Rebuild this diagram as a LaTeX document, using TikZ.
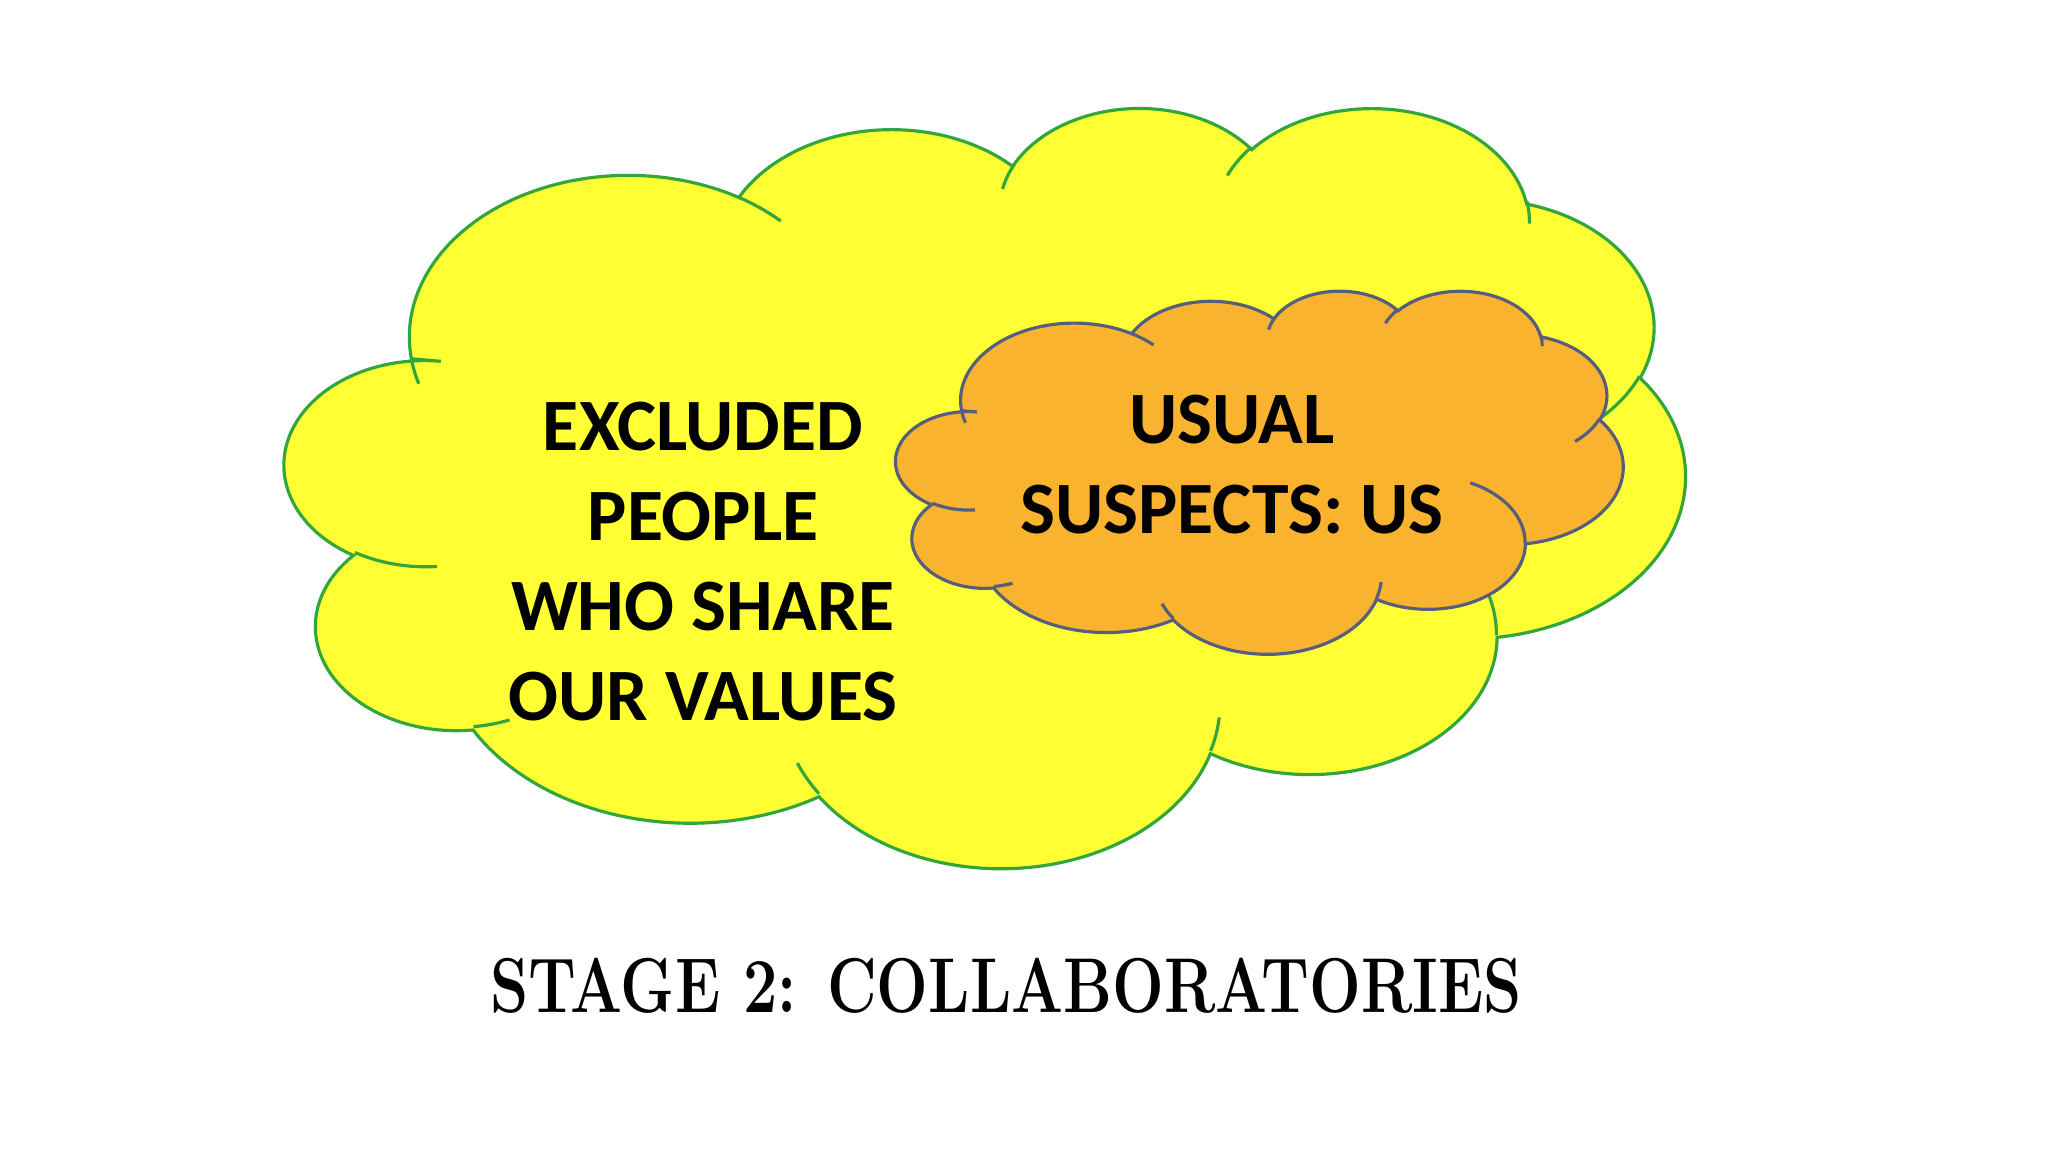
\documentclass[tikz,border=0pt]{standalone}
\usepackage{fontspec}
\usepackage{graphicx}
\usepackage{tikz}
\newfontfamily\cloudfont{Carlito}
\definecolor{cloudyellow}{RGB}{255,255,51}
\definecolor{cloudgreen}{RGB}{50,165,60}
\definecolor{cloudorange}{RGB}{249,179,46}
\definecolor{cloudslate}{RGB}{85,95,125}
\pgfmathdeclarefunction{vispar}{3}{%
	\begingroup
	\pgfmathparse{atan2(#2*sin(#1),#3*cos(#1))-(#1)}%
	\pgfmathparse{#1+atan2(sin(\pgfmathresult),cos(\pgfmathresult))}%
	\pgfmathsmuggle\pgfmathresult
	\endgroup}

\begin{document}
\begin{tikzpicture}[x=0.01cm, y=-0.01cm,
	cloudtext/.style={font=\cloudfont\bfseries\fontsize{21}{25.6}\selectfont, align=center, inner sep=0},
	stagetext/.style={font=\bfseries\fontsize{17.4}{20}\selectfont, inner sep=0}]
	\useasboundingbox[fill=white] (0,0) rectangle (2048,1152);
	\foreach \cx/\cy/\cw/\ch/\fc/\dc in {285/106/1400/760/cloudyellow/cloudgreen, 896/290/727/363/cloudorange/cloudslate} {
		\begin{scope}[shift={(\cx,\cy)}, x={(0.01cm*\cw/432,0)}, y={(0,-0.01cm*\ch/432)}, line width=0.9pt]
			\filldraw[fill=\fc, draw=\dc] (39,143.7)
				foreach \wr/\hr/\st/\sw in {67.53/91.90/-190.4875/123.7805, 53.33/72.67/-144.1024/89.9452, 43.65/59.45/-145.8079/99.7230, 48.57/65.95/-130.9861/117.2417, 53.33/72.73/-78.7089/109.0269, 67.75/92.20/-46.2673/130.2690, 57.85/78.67/0.6250/114.0333, 67.52/92.15/22.4516/115.1726, 77.20/105.43/66.2426/75.7110, 43.60/59.18/-274.9421/146.7356, 43.45/59.45/-246.8285/161.6800} {
					arc[x radius=\wr, y radius=\hr, start angle={vispar(\st,\wr,\hr)}, end angle={vispar(\st+\sw,\wr,\hr)}]
				} -- cycle;
			\foreach \px/\py/\wr/\hr/\st/\sw in {46.93/261.77/43.45/59.45/86.742/26.4295, 69.28/348.99/43.60/59.18/73.6105/11.4475, 164.78/390.90/67.52/92.15/137.6242/14.0811, 288.27/347.51/67.52/92.15/6.4533/15.9984, 341.29/229.54/57.85/78.67/-70.2924/70.9174, 417.98/153.54/53.33/72.73/30.3180/27.7515, 383.24/54.26/48.57/65.95/-13.7443/14.8589, 290.78/39.52/48.57/65.95/-149.1815/18.1954, 221.41/47.20/43.65/59.45/-163.4943/17.6864, 140.00/51.92/67.53/91.90/-66.7070/12.3194, 41.27/157.89/67.53/91.90/157.6544/11.8582} {
				\draw[draw=\dc] (\px,\py) arc[x radius=\wr, y radius=\hr, start angle={vispar(\st,\wr,\hr)}, end angle={vispar(\st+\sw,\wr,\hr)}];
			};
		\end{scope}
	};
	\node[cloudtext] (excluded) at (703,562) {EXCLUDED\\PEOPLE\\WHO SHARE\\OUR VALUES};
	\node[cloudtext] (usual) at (1232,465) {USUAL\\SUSPECTS: US};
	\node[stagetext] (stage) at (1006,986) {\scalebox{1}[1.27]{STAGE 2: COLLABORATORIES}};
\end{tikzpicture}
\end{document}
